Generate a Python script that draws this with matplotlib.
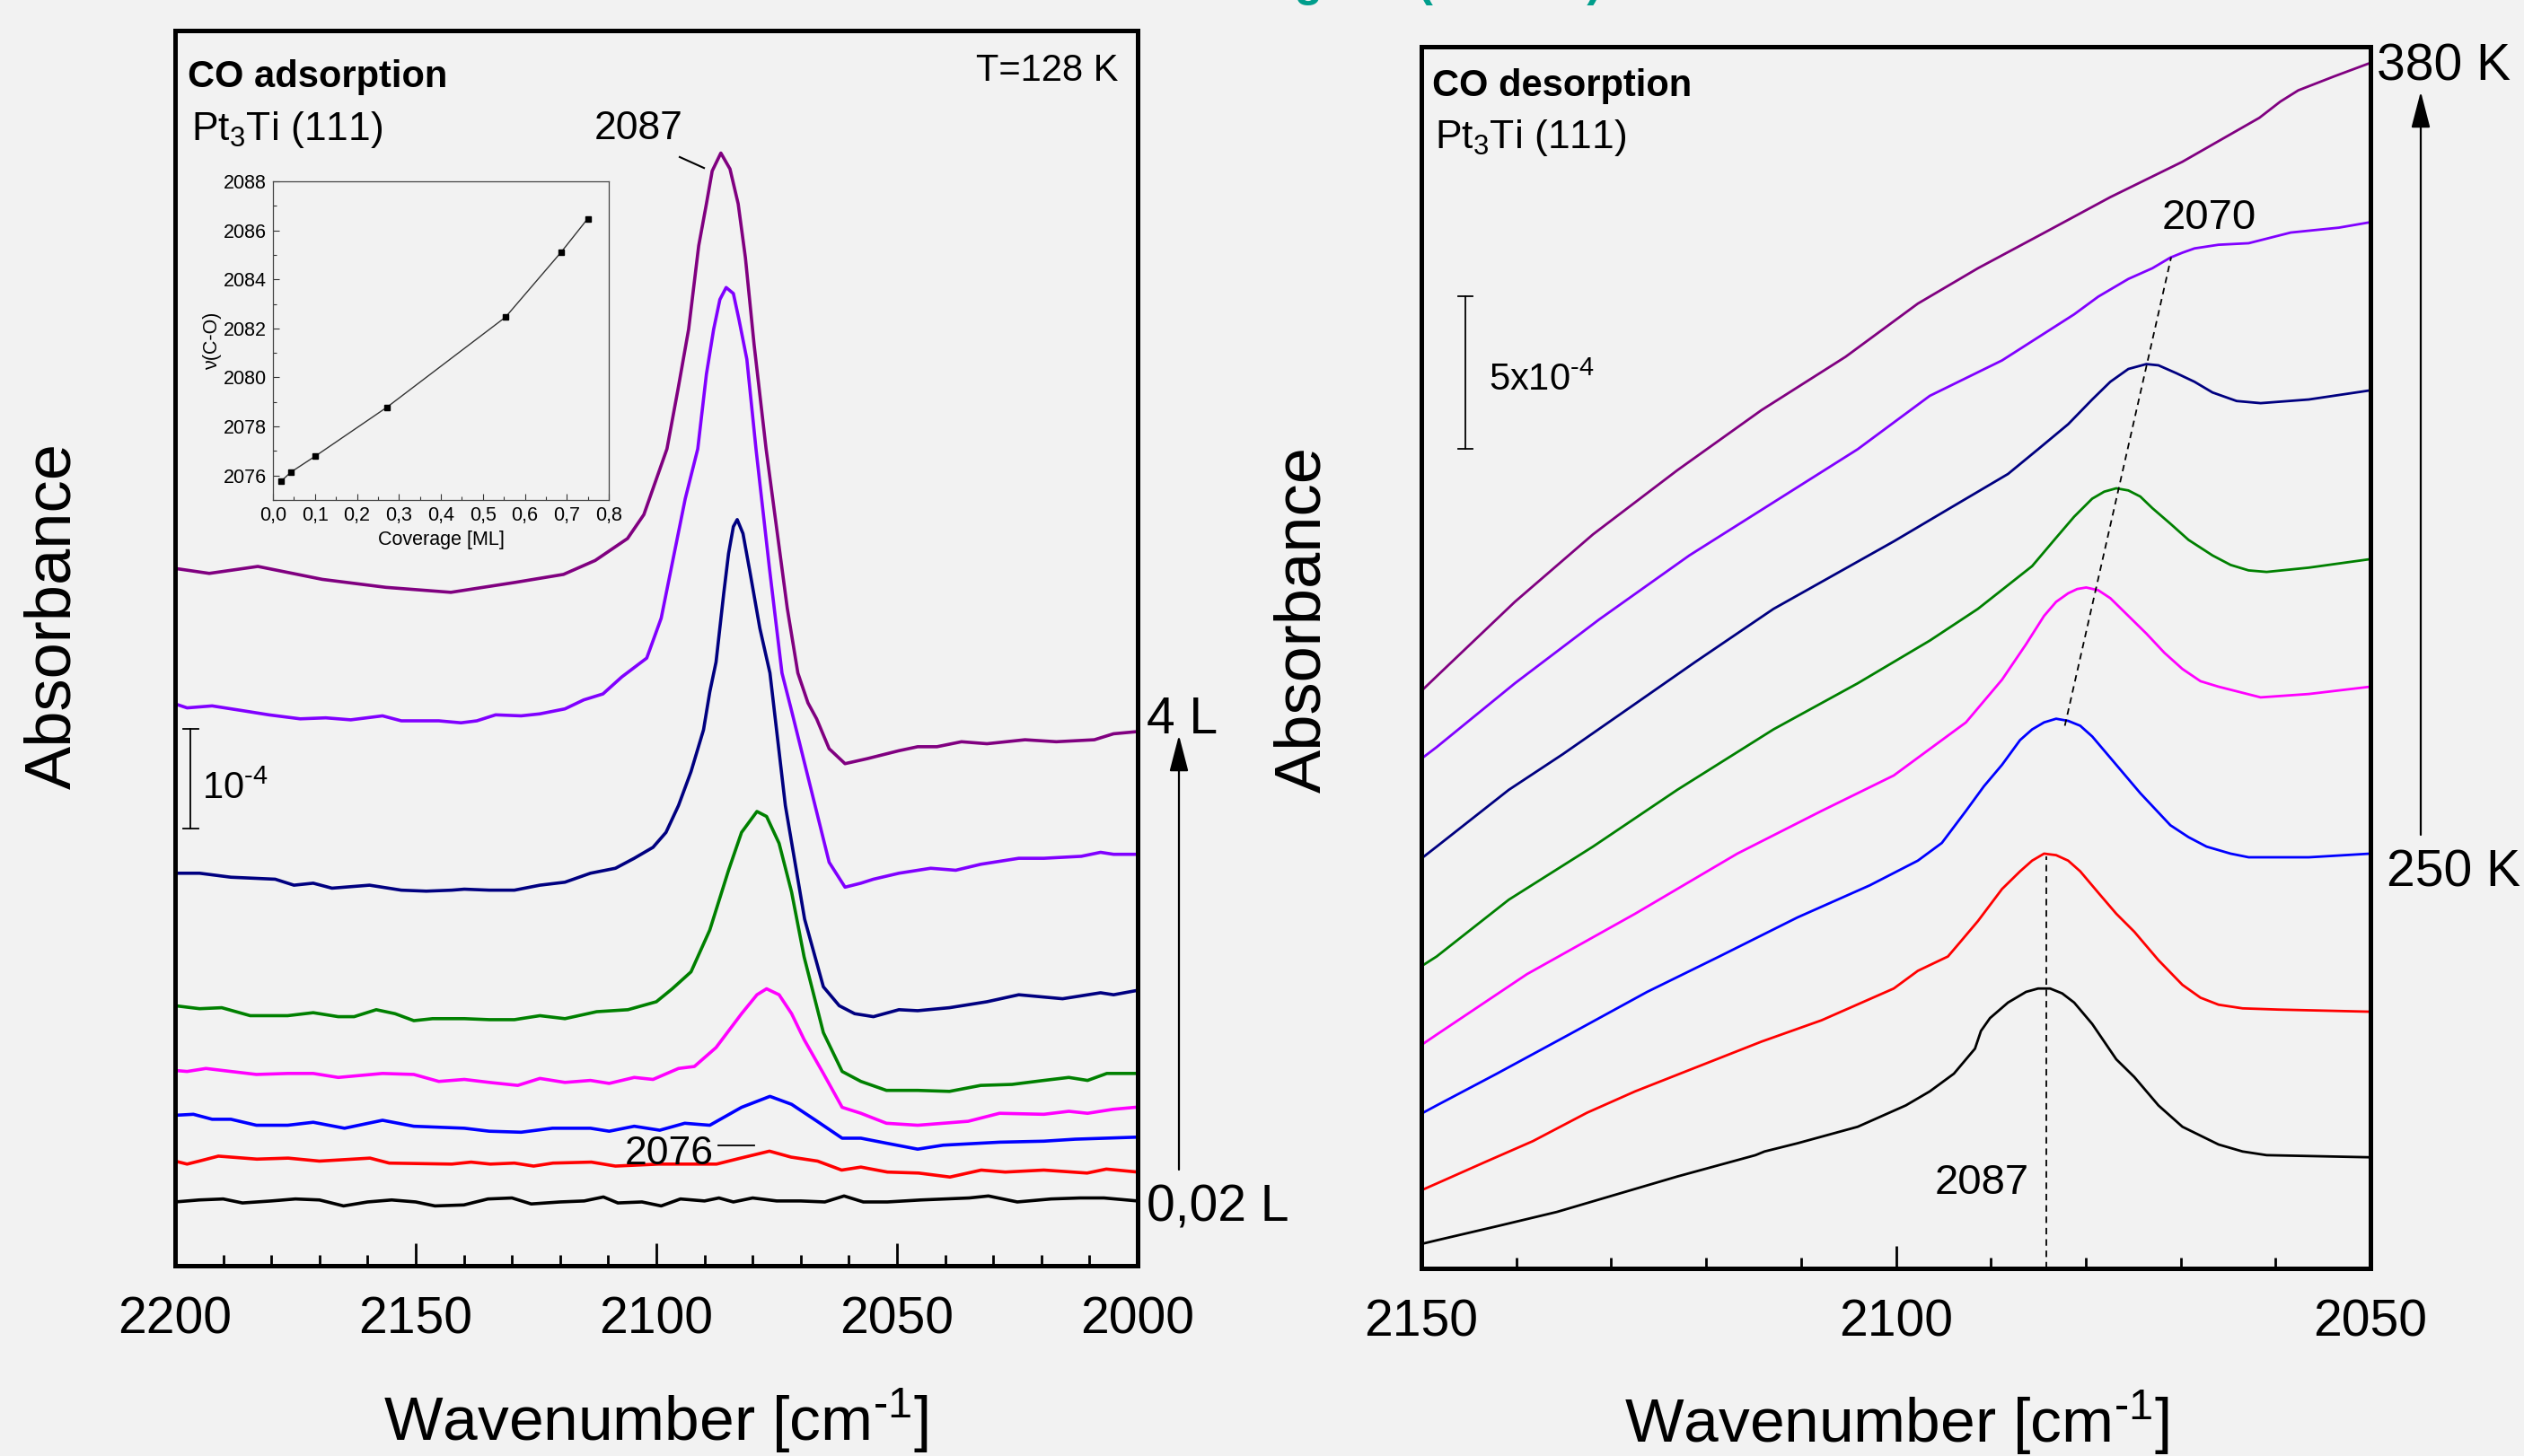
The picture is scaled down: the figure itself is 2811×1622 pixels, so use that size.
import numpy as np
import matplotlib
matplotlib.use("Agg")
import matplotlib.pyplot as plt
from matplotlib.ticker import MultipleLocator, FuncFormatter
from matplotlib.patches import FancyArrowPatch

plt.rcParams['font.family'] = ['Liberation Sans', 'DejaVu Sans']
plt.rcParams['mathtext.fontset'] = 'custom'
plt.rcParams['mathtext.rm'] = 'Liberation Sans'
plt.rcParams['mathtext.it'] = 'Liberation Sans:italic'
plt.rcParams['mathtext.bf'] = 'Liberation Sans:bold'
plt.rcParams['mathtext.default'] = 'regular'

# ---- left panel: CO adsorption spectra (absorbance in units of 1e-4, offset) ----
ads_black_wn = [2200, 2195, 2190, 2186, 2180, 2175, 2170, 2165, 2160, 2155, 2150, 2146, 2140, 2135,
                2130, 2126, 2120, 2115, 2111, 2108, 2103, 2099, 2095, 2090, 2087, 2084, 2080, 2075,
                2070, 2065, 2061, 2057, 2052, 2045, 2040, 2035, 2031, 2025, 2018, 2012, 2007, 2000]
ads_black_a = [0.64, 0.66, 0.67, 0.63, 0.65, 0.67, 0.66, 0.60, 0.64, 0.66, 0.64, 0.60, 0.61, 0.67,
               0.68, 0.62, 0.64, 0.65, 0.69, 0.63, 0.64, 0.60, 0.67, 0.65, 0.68, 0.64, 0.68, 0.65,
               0.65, 0.64, 0.70, 0.64, 0.64, 0.66, 0.67, 0.68, 0.70, 0.64, 0.67, 0.68, 0.68, 0.65]

ads_red_wn = [2200, 2197.5, 2195, 2191, 2183, 2176.5, 2170, 2159.5, 2155.5, 2142.5, 2138.5, 2134.5,
              2129.5, 2125.5, 2121.5, 2113.5, 2108.5, 2099.5, 2087.5, 2082.5, 2076.5, 2072, 2066.5,
              2061.5, 2057.5, 2052, 2045.5, 2039, 2032.5, 2027.5, 2019.5, 2010.5, 2006.5, 2000]
ads_red_a = [1.05, 1.02, 1.05, 1.10, 1.07, 1.08, 1.05, 1.08, 1.03, 1.02, 1.04, 1.02, 1.03, 1.00,
             1.03, 1.04, 1.00, 1.02, 1.02, 1.08, 1.15, 1.09, 1.05, 0.96, 0.99, 0.94, 0.93, 0.89,
             0.96, 0.94, 0.96, 0.93, 0.97, 0.94]

ads_blue_wn = [2200, 2196.2, 2192.3, 2188.4, 2183.1, 2176.6, 2171.3, 2164.8, 2156.9, 2150.4, 2139.9,
               2134.7, 2128.1, 2121.6, 2113.7, 2109.8, 2104.6, 2099.3, 2094.1, 2088.9, 2082.3, 2076.4,
               2071.9, 2066.6, 2061.4, 2057.5, 2052.2, 2045.7, 2040.4, 2032.6, 2028.7, 2019.5, 2013, 2000.5]
ads_blue_a = [1.51, 1.52, 1.47, 1.47, 1.41, 1.41, 1.44, 1.38, 1.46, 1.40, 1.38, 1.35, 1.34, 1.38,
              1.38, 1.35, 1.40, 1.36, 1.43, 1.41, 1.59, 1.70, 1.62, 1.45, 1.28, 1.28, 1.23, 1.17,
              1.21, 1.23, 1.24, 1.25, 1.27, 1.29]

ads_mag_wn = [2200, 2197.5, 2193.6, 2188.4, 2183.1, 2176.6, 2171.3, 2166.1, 2156.9, 2150.4, 2145.2,
              2139.9, 2134.7, 2128.8, 2124.2, 2119, 2113.7, 2109.8, 2104.6, 2100.7, 2095.4, 2092.1,
              2087.6, 2082.3, 2079.1, 2077.1, 2074.5, 2071.9, 2069.3, 2065.3, 2061.4, 2057.5, 2052.2,
              2045.7, 2040.4, 2035.2, 2028.7, 2019.5, 2014.3, 2010.4, 2005.1, 2000.5]
ads_mag_a = [1.96, 1.95, 1.98, 1.95, 1.92, 1.93, 1.93, 1.89, 1.93, 1.92, 1.85, 1.87, 1.84, 1.81,
             1.88, 1.84, 1.86, 1.83, 1.89, 1.87, 1.98, 2.00, 2.19, 2.53, 2.72, 2.78, 2.72, 2.53,
             2.27, 1.93, 1.59, 1.53, 1.43, 1.41, 1.43, 1.45, 1.53, 1.52, 1.55, 1.53, 1.57, 1.59]

ads_green_wn = [2200, 2194.9, 2190.3, 2184.4, 2176.6, 2171.3, 2166.1, 2162.8, 2158.2, 2154.3, 2150.4,
                2146.5, 2139.9, 2134.7, 2129.5, 2124.2, 2119, 2112.4, 2105.9, 2100, 2096.7, 2092.8,
                2088.9, 2085, 2082.3, 2079.1, 2077.1, 2074.5, 2071.9, 2069.3, 2065.3, 2061.4, 2057.5,
                2052.2, 2045.7, 2039.1, 2032.6, 2026.1, 2019.5, 2014.3, 2010.4, 2006.4, 2000.5]
ads_green_a = [2.61, 2.58, 2.59, 2.51, 2.51, 2.54, 2.50, 2.50, 2.57, 2.53, 2.46, 2.48, 2.48, 2.47,
               2.47, 2.51, 2.48, 2.55, 2.57, 2.65, 2.78, 2.95, 3.37, 3.97, 4.35, 4.56, 4.51, 4.24,
               3.75, 3.10, 2.34, 1.95, 1.85, 1.76, 1.76, 1.75, 1.81, 1.82, 1.86, 1.89, 1.86, 1.93, 1.93]

ads_navy_wn = [2200, 2194.9, 2188.4, 2179.2, 2175.3, 2171.3, 2167.4, 2159.6, 2153, 2147.8, 2142.5,
               2139.9, 2134.7, 2129.5, 2124.2, 2119, 2113.7, 2108.5, 2104.6, 2100.7, 2098, 2095.4,
               2092.8, 2090.2, 2088.9, 2087.6, 2086, 2085, 2084, 2083.2, 2082, 2080.5, 2078.5, 2076.4,
               2073.2, 2069.2, 2065.3, 2062, 2058.8, 2054.9, 2049.6, 2045.7, 2039.1, 2031.3, 2024.7,
               2015.6, 2007.7, 2005, 2000.5]
ads_navy_a = [3.94, 3.94, 3.90, 3.88, 3.82, 3.84, 3.79, 3.82, 3.77, 3.76, 3.77, 3.78, 3.77, 3.77,
              3.82, 3.85, 3.94, 3.99, 4.09, 4.20, 4.35, 4.62, 4.96, 5.38, 5.76, 6.06, 6.75, 7.15,
              7.42, 7.49, 7.35, 6.95, 6.40, 5.95, 4.62, 3.48, 2.80, 2.61, 2.53, 2.50, 2.57, 2.56,
              2.59, 2.65, 2.72, 2.68, 2.74, 2.72, 2.76]

ads_violet_wn = [2200, 2197.5, 2192.3, 2185.7, 2180.5, 2174, 2168.7, 2163.5, 2156.9, 2153, 2145.2,
                 2140.6, 2137.3, 2133.4, 2128.1, 2124.2, 2119, 2115.1, 2111.1, 2107.2, 2102, 2099,
                 2096.5, 2094, 2091.4, 2089.6, 2088.1, 2086.8, 2085.5, 2084, 2082.8, 2081.2, 2079.3,
                 2076.5, 2073.9, 2071.9, 2068, 2064.1, 2060.8, 2057.5, 2054.9, 2049.6, 2043, 2037.8,
                 2032.6, 2024.7, 2019.5, 2011.7, 2007.7, 2005, 2000.5]
ads_violet_a = [5.64, 5.60, 5.62, 5.57, 5.53, 5.49, 5.50, 5.48, 5.52, 5.47, 5.47, 5.45, 5.47, 5.53,
                5.52, 5.54, 5.59, 5.68, 5.74, 5.91, 6.10, 6.50, 7.10, 7.70, 8.20, 8.95, 9.40, 9.70,
                9.82, 9.76, 9.49, 9.10, 8.20, 7.00, 5.95, 5.57, 4.81, 4.05, 3.80, 3.84, 3.88, 3.94,
                3.99, 3.97, 4.03, 4.09, 4.09, 4.11, 4.15, 4.13, 4.13]

ads_purple_wn = [2200, 2192.9, 2182.8, 2169.4, 2156.2, 2142.7, 2129.3, 2119.3, 2112.7, 2106, 2102.6,
                 2097.8, 2095.5, 2093.3, 2091.2, 2089.6, 2088.4, 2086.6, 2084.7, 2083, 2081.5, 2079.7,
                 2077.2, 2075, 2072.8, 2070.6, 2068.5, 2066.7, 2064.1, 2060.8, 2056.2, 2049.6, 2045.7,
                 2041.7, 2036.6, 2031.3, 2023.4, 2016.9, 2009, 2005, 2000.5]
ads_purple_a = [7.00, 6.95, 7.02, 6.89, 6.81, 6.76, 6.86, 6.94, 7.08, 7.30, 7.54, 8.20, 8.80, 9.40,
                10.24, 10.66, 10.99, 11.17, 11.01, 10.66, 10.12, 9.25, 8.20, 7.40, 6.60, 5.95, 5.65,
                5.49, 5.19, 5.04, 5.09, 5.17, 5.21, 5.21, 5.26, 5.24, 5.28, 5.26, 5.28, 5.34, 5.36]

# inset: peak position vs coverage
coverage = [0.019, 0.043, 0.101, 0.272, 0.554, 0.687, 0.750]
nu_co = [2075.76, 2076.14, 2076.79, 2078.79, 2082.46, 2085.12, 2086.48]

# ---- right panel: CO desorption spectra (units of 1e-4, offset) ----
des_black_wn = [2150, 2148.39, 2142.05, 2135.72, 2129.38, 2123.04, 2114.8, 2113.85, 2110.37, 2104.03,
                2098.96, 2096.43, 2093.89, 2091.67, 2091.04, 2090.09, 2088.19, 2086.29, 2085.02,
                2083.75, 2082.48, 2081.22, 2079.32, 2076.78, 2074.88, 2072.34, 2069.81, 2066.01,
                2063.47, 2060.94, 2050]
des_black_a = [0.80, 0.92, 1.38, 1.85, 2.43, 3.01, 3.71, 3.83, 4.10, 4.64, 5.34, 5.80, 6.38, 7.20,
               7.78, 8.20, 8.71, 9.06, 9.17, 9.17, 9.01, 8.71, 8.01, 6.85, 6.27, 5.34, 4.64, 4.06,
               3.83, 3.71, 3.64]

des_red_wn = [2150, 2148.39, 2143.32, 2138.25, 2132.55, 2127.48, 2121.77, 2114.17, 2107.83, 2100.23,
              2097.69, 2094.52, 2093.26, 2091.36, 2088.82, 2086.92, 2085.65, 2084.39, 2083.12,
              2081.85, 2080.58, 2078.68, 2076.78, 2074.88, 2072.34, 2069.81, 2067.91, 2066.01,
              2063.47, 2059.67, 2050]
des_red_a = [2.56, 2.78, 3.48, 4.17, 5.10, 5.80, 6.50, 7.43, 8.13, 9.17, 9.75, 10.22, 10.68, 11.38,
             12.43, 13.01, 13.36, 13.59, 13.54, 13.36, 13.01, 12.31, 11.62, 11.03, 10.10, 9.29,
             8.87, 8.64, 8.52, 8.48, 8.41]

des_blue_wn = [2150, 2148.39, 2142.05, 2134.45, 2126.21, 2118.61, 2110.37, 2102.76, 2097.69, 2095.16,
               2092.62, 2090.72, 2088.82, 2086.92, 2085.65, 2084.39, 2083.12, 2081.85, 2080.58,
               2079.32, 2077.41, 2074.25, 2071.08, 2069.17, 2067.27, 2064.74, 2062.83, 2056.5, 2050]
des_blue_a = [5.07, 5.34, 6.38, 7.66, 9.06, 10.22, 11.50, 12.55, 13.36, 13.94, 14.99, 15.80, 16.50,
              17.31, 17.66, 17.89, 18.01, 17.94, 17.78, 17.43, 16.73, 15.57, 14.52, 14.13, 13.82,
              13.59, 13.47, 13.47, 13.59]

des_mag_wn = [2150, 2148.39, 2138.88, 2127.48, 2116.71, 2107.83, 2100.23, 2092.62, 2090.72, 2088.82,
              2086.29, 2084.39, 2083.12, 2081.85, 2080.9, 2079.95, 2078.68, 2077.41, 2075.51,
              2073.61, 2071.71, 2069.81, 2067.91, 2066.01, 2061.57, 2056.5, 2050]
des_mag_a = [7.32, 7.66, 9.64, 11.62, 13.59, 14.99, 16.15, 17.89, 18.59, 19.29, 20.45, 21.38, 21.84,
             22.12, 22.26, 22.31, 22.22, 21.96, 21.38, 20.80, 20.17, 19.64, 19.24, 19.06, 18.71,
             18.82, 19.06]

des_green_wn = [2150, 2148.39, 2140.79, 2131.92, 2123.04, 2112.9, 2104.03, 2096.43, 2091.36, 2085.65,
                2083.12, 2081.22, 2079.32, 2078.05, 2076.78, 2075.51, 2074.25, 2072.98, 2071.08,
                2069.17, 2066.64, 2064.74, 2062.84, 2060.94, 2056.5, 2050]
des_green_a = [9.90, 10.22, 12.08, 13.82, 15.68, 17.66, 19.17, 20.57, 21.61, 23.01, 23.94, 24.63,
               25.22, 25.45, 25.56, 25.49, 25.29, 24.91, 24.40, 23.87, 23.36, 23.05, 22.87, 22.82,
               22.96, 23.24]

des_navy_wn = [2150, 2148.39, 2140.79, 2135.09, 2128.11, 2121.14, 2112.9, 2100.23, 2094.52, 2088.19,
               2085.02, 2081.85, 2079.32, 2077.41, 2075.51, 2073.61, 2072.34, 2070.44, 2068.54,
               2066.64, 2064.1, 2061.57, 2056.5, 2050]
des_navy_a = [13.43, 13.82, 15.68, 16.85, 18.36, 19.87, 21.61, 23.82, 24.87, 26.03, 26.84, 27.66,
              28.47, 29.05, 29.47, 29.63, 29.59, 29.33, 29.05, 28.70, 28.42, 28.35, 28.47, 28.77]

des_violet_wn = [2150, 2148.39, 2140.15, 2131.28, 2121.77, 2112.9, 2104.03, 2096.43, 2088.82, 2081.22,
                 2078.68, 2075.51, 2072.98, 2071.08, 2069.81, 2068.54, 2066.01, 2062.84, 2058.4,
                 2053.33, 2050]
des_violet_a = [16.70, 17.08, 19.17, 21.26, 23.36, 25.10, 26.84, 28.59, 29.75, 31.26, 31.84, 32.42,
                32.77, 33.12, 33.28, 33.42, 33.54, 33.59, 33.94, 34.10, 34.28]

des_purple_wn = [2150, 2148.39, 2140.15, 2131.92, 2123.04, 2114.17, 2105.3, 2097.7, 2091.36, 2084.39,
                 2077.41, 2069.81, 2064.8, 2061.7, 2059.5, 2057.6, 2053.8, 2050]
des_purple_a = [18.92, 19.40, 21.84, 24.05, 26.15, 28.12, 29.87, 31.61, 32.77, 33.93, 35.10, 36.26,
                37.15, 37.70, 38.23, 38.60, 39.06, 39.50]

colors = ['black', '#ff0000', '#0000ff', '#ff00ff', '#008000', '#000080', '#8000ff', '#800080']

W, H = 2811, 1622
bg = '#f2f2f2'
fig = plt.figure(figsize=(W / 100, H / 100), dpi=100, facecolor=bg)


def fx(px):
    return px / W


def fy(py):
    return 1 - py / H


def style(ax):
    ax.set_facecolor(bg)
    for s in ax.spines.values():
        s.set_linewidth(3.6)
    ax.set_yticks([])
    ax.xaxis.set_major_locator(MultipleLocator(50))
    ax.xaxis.set_minor_locator(MultipleLocator(10))
    ax.tick_params(axis='x', which='both', direction='in', top=False, width=2,
                   labelsize=41, pad=24)
    ax.tick_params(axis='x', which='major', length=18)
    ax.tick_params(axis='x', which='minor', length=9)


# left
ax1 = fig.add_axes([fx(195), fy(1410), (1267 - 195) / W, (1410 - 34) / H])
style(ax1)
ax1.set_xlim(2200, 2000)
ax1.set_ylim(0, 12.4)
left_sets = [(ads_black_wn, ads_black_a), (ads_red_wn, ads_red_a), (ads_blue_wn, ads_blue_a),
             (ads_mag_wn, ads_mag_a), (ads_green_wn, ads_green_a), (ads_navy_wn, ads_navy_a),
             (ads_violet_wn, ads_violet_a), (ads_purple_wn, ads_purple_a)]
for (wn, a), c in zip(left_sets, colors):
    ax1.plot(wn, a, color=c, lw=2.6, solid_joinstyle='round')

ax1.text(0.013, 0.954, 'CO adsorption', transform=ax1.transAxes, fontsize=30,
         fontweight='bold', va='baseline')
ax1.text(0.017, 0.911, 'Pt$_3$Ti (111)', transform=ax1.transAxes, fontsize=32, va='baseline')
ax1.text(0.980, 0.959, 'T=128 K', transform=ax1.transAxes, fontsize=30, ha='right', va='baseline')
ax1.text(2112.9, 11.31, '2087', fontsize=32, va='baseline')
ax1.plot([2095.15, 2090.1], [11.13, 11.02], color='k', lw=1.5)
ax1.text(2106.5, 1.02, '2076', fontsize=32, va='baseline')
ax1.plot([2087.1, 2079.7], [1.21, 1.21], color='k', lw=1.3)
# scale bar 1e-4
ax1.plot([2196.8, 2196.8], [4.39, 5.39], color='k', lw=1.3)
ax1.plot([2195.2, 2198.4], [5.39, 5.39], color='k', lw=1.3)
ax1.plot([2195.2, 2198.4], [4.39, 4.39], color='k', lw=1.3)
ax1.text(2194.4, 4.69, r'10$^{\text{-4}}$', fontsize=30, va='baseline')

# inset
axi = fig.add_axes([fx(304), fy(557), (678 - 304) / W, (557 - 202) / H])
axi.set_facecolor(bg)
axi.plot(coverage, nu_co, color='#333333', lw=1.0, marker='s', ms=4.5, mfc='k', mec='k')
axi.set_xlim(0, 0.8)
axi.set_ylim(2075, 2088)
axi.xaxis.set_major_locator(MultipleLocator(0.1))
axi.xaxis.set_minor_locator(MultipleLocator(0.05))
axi.yaxis.set_major_locator(MultipleLocator(2))
axi.yaxis.set_minor_locator(MultipleLocator(1))
axi.xaxis.set_major_formatter(FuncFormatter(lambda v, p: f"{v:.1f}".replace('.', ',')))
axi.tick_params(which='both', direction='in', top=False, right=False, labelsize=15.5, pad=5,
                width=0.8, color='#333333')
axi.tick_params(which='major', length=5)
axi.tick_params(which='minor', length=3)
for s in axi.spines.values():
    s.set_linewidth(0.9)
    s.set_color('#444444')
axi.set_xlabel('Coverage [ML]', fontsize=15.5, labelpad=4)
axi.set_ylabel('ν(C-O)', fontsize=15.5, labelpad=1)

# right
ax2 = fig.add_axes([fx(1583), fy(1413), (2640 - 1583) / W, (1413 - 52) / H])
style(ax2)
ax2.set_xlim(2150, 2050)
ax2.set_ylim(0, 40.03)
right_sets = [(des_black_wn, des_black_a), (des_red_wn, des_red_a), (des_blue_wn, des_blue_a),
              (des_mag_wn, des_mag_a), (des_green_wn, des_green_a), (des_navy_wn, des_navy_a),
              (des_violet_wn, des_violet_a), (des_purple_wn, des_purple_a)]
for (wn, a), c in zip(right_sets, colors):
    ax2.plot(wn, a, color=c, lw=2.0, solid_joinstyle='round')

ax2.text(0.011, 0.9596, 'CO desorption', transform=ax2.transAxes, fontsize=30,
         fontweight='bold', va='baseline')
ax2.text(0.014, 0.917, 'Pt$_3$Ti (111)', transform=ax2.transAxes, fontsize=32, va='baseline')
ax2.plot([2145.36, 2145.36], [26.85, 31.85], color='k', lw=1.3)
ax2.plot([2144.6, 2146.1], [31.85, 31.85], color='k', lw=1.3)
ax2.plot([2144.6, 2146.1], [26.85, 26.85], color='k', lw=1.3)
ax2.text(2142.9, 28.76, r'5x10$^{\text{-4}}$', fontsize=30, va='baseline')
ax2.plot([2084.2, 2084.2], [0, 13.5], color='k', lw=1.3, dashes=(4, 3))
ax2.plot([2082.2, 2071.0], [17.78, 33.13], color='k', lw=1.3, dashes=(4, 3))
ax2.text(2086.0, 2.44, '2087', fontsize=34, ha='right', va='baseline')
ax2.text(2072.0, 34.06, '2070', fontsize=34, va='baseline')

# labels outside the axes
fig.text(fx(60), fy(686), 'Absorbance', rotation=90, fontsize=52, ha='center', va='center')
fig.text(fx(1452), fy(690), 'Absorbance', rotation=90, fontsize=52, ha='center', va='center')
fig.text(fx(730), fy(1605), r'Wavenumber [cm$^{\text{-1}}$]', fontsize=50, ha='center', va='baseline')
fig.text(fx(2112), fy(1607), r'Wavenumber [cm$^{\text{-1}}$]', fontsize=50, ha='center', va='baseline')

fig.text(fx(1277), fy(817), '4 L', fontsize=41, va='baseline')
fig.text(fx(1277), fy(1361), '0,02 L', fontsize=41, va='baseline')
fig.add_artist(FancyArrowPatch((fx(1313), fy(1303)), (fx(1313), fy(819)), transform=fig.transFigure,
                               arrowstyle='-|>,head_length=2.5,head_width=0.65', mutation_scale=10,
                               lw=1.6, color='k', shrinkA=0, shrinkB=0))
fig.text(fx(2647), fy(90), '380 K', fontsize=41, va='baseline')
fig.text(fx(2658), fy(987), '250 K', fontsize=41, va='baseline')
fig.add_artist(FancyArrowPatch((fx(2696), fy(930)), (fx(2696), fy(102)), transform=fig.transFigure,
                               arrowstyle='-|>,head_length=2.5,head_width=0.65', mutation_scale=10,
                               lw=1.6, color='k', shrinkA=0, shrinkB=0))

# slide title, mostly cut off at the top edge as in the source slide
fig.text(fx(1396), 1 + 5 / H, 'Ligand (d-band)', color='#009e8c', fontsize=37,
         fontweight='bold', va='baseline')

fig.savefig('out.png', dpi=100, facecolor=bg)
